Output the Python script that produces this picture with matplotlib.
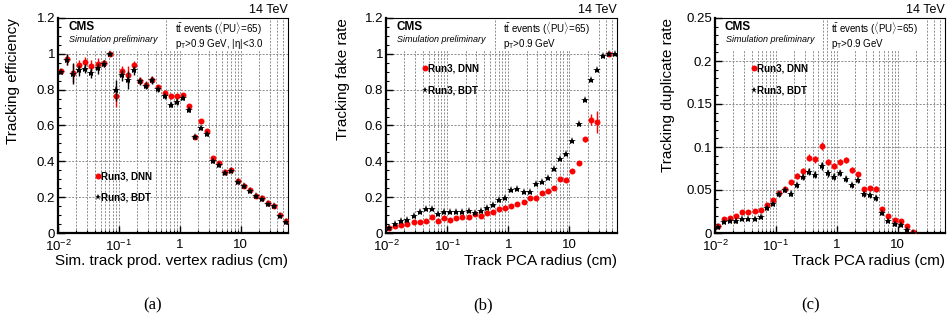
import numpy as np
import matplotlib
matplotlib.use('Agg')
import matplotlib.pyplot as plt
from matplotlib.patches import Rectangle
from matplotlib.ticker import FixedLocator, FuncFormatter, NullFormatter, MultipleLocator

plt.rcParams['font.family'] = ['Liberation Sans', 'DejaVu Sans']
plt.rcParams['mathtext.fontset'] = 'custom'
plt.rcParams['mathtext.rm'] = 'Liberation Sans'
plt.rcParams['mathtext.it'] = 'Liberation Sans:italic'
plt.rcParams['mathtext.bf'] = 'Liberation Sans:bold'
plt.rcParams['mathtext.fallback'] = 'cm'

nan = np.nan

# bin centres (cm)
radius = [0.0112, 0.0141, 0.0178, 0.0224, 0.0282, 0.0355, 0.0447, 0.0562, 0.0708, 0.0891,
          0.112, 0.141, 0.178, 0.224, 0.282, 0.355, 0.447, 0.562, 0.708, 0.891,
          1.12, 1.41, 1.78, 2.24, 2.82, 3.55, 4.47, 5.62, 7.08, 8.91,
          11.2, 14.1, 17.8, 22.4, 28.2, 35.5, 44.7, 56.2]

# (a) tracking efficiency
eff_dnn = [0.906, 0.970, 0.893, 0.935, 0.957, 0.933, 0.944, 0.948, 1.000, 0.763,
           0.902, 0.883, 0.935, 0.850, 0.828, 0.856, 0.813, 0.781, 0.763, 0.763,
           0.769, 0.707, 0.535, 0.624, 0.569, 0.420, 0.389, 0.343, 0.350, 0.290,
           0.263, 0.240, 0.209, 0.193, 0.165, 0.152, 0.100, 0.067]
eff_dnn_err = [0.010, 0.030, 0.050, 0.030, 0.025, 0.030, 0.030, 0.020, 0.005, 0.060,
               0.030, 0.050, 0.025, 0.020, 0.020, 0.020, 0.015, 0.015, 0.015, 0.015,
               0.012, 0.012, 0.010, 0.010, 0.010, 0.008, 0.008, 0.008, 0.008, 0.008,
               0.008, 0.007, 0.007, 0.007, 0.007, 0.007, 0.007, 0.007]
eff_bdt = [0.896, 0.967, 0.889, 0.907, 0.918, 0.893, 0.920, 0.944, 1.000, 0.796,
           0.881, 0.856, 0.907, 0.846, 0.822, 0.852, 0.804, 0.763, 0.717, 0.731,
           0.754, 0.689, 0.535, 0.587, 0.550, 0.400, 0.378, 0.337, 0.346, 0.285,
           0.260, 0.237, 0.205, 0.188, 0.160, 0.148, 0.095, 0.060]
eff_bdt_err = [0.010, 0.030, 0.060, 0.030, 0.025, 0.030, 0.030, 0.020, 0.005, 0.060,
               0.030, 0.050, 0.025, 0.020, 0.020, 0.020, 0.015, 0.015, 0.015, 0.015,
               0.012, 0.012, 0.010, 0.010, 0.010, 0.008, 0.008, 0.008, 0.008, 0.008,
               0.008, 0.007, 0.007, 0.007, 0.007, 0.007, 0.007, 0.007]

# (b) fake rate
fake_dnn = [0.026, 0.041, 0.044, 0.050, 0.059, 0.059, 0.069, 0.091, 0.065, 0.083,
            0.074, 0.083, 0.087, 0.087, 0.106, 0.096, 0.111, 0.115, 0.133, 0.141,
            0.152, 0.161, 0.174, 0.194, 0.198, 0.226, 0.235, 0.250, 0.304, 0.296,
            0.344, 0.389, 0.522, 0.633, 0.619, nan, 1.000, nan]
fake_dnn_err = [0.003, 0.003, 0.003, 0.003, 0.003, 0.003, 0.003, 0.004, 0.003, 0.003,
                0.003, 0.003, 0.003, 0.003, 0.003, 0.003, 0.003, 0.003, 0.003, 0.003,
                0.003, 0.003, 0.004, 0.004, 0.004, 0.005, 0.005, 0.006, 0.008, 0.008,
                0.010, 0.012, 0.015, 0.030, 0.060, 0.0, 0.005, 0.0]
fake_bdt = [0.026, 0.050, 0.069, 0.074, 0.096, 0.115, 0.133, 0.133, 0.106, 0.120,
            0.120, 0.119, 0.115, 0.124, 0.111, 0.124, 0.139, 0.157, 0.183, 0.198,
            0.241, 0.248, 0.230, 0.230, 0.272, 0.287, 0.309, 0.359, 0.415, 0.441,
            0.511, 0.609, 0.741, 0.852, 0.907, 0.989, 1.000, 1.000]
fake_bdt_err = [0.002] * 38

# (c) duplicate rate
dup_dnn = [0.0086, 0.0164, 0.0171, 0.0202, 0.0241, 0.0245, 0.0257, 0.0265, 0.0331, 0.0389,
           0.0460, 0.0506, 0.0592, 0.0662, 0.0720, 0.0876, 0.0857, 0.1010, 0.0826, 0.0779,
           0.0822, 0.0849, 0.0732, 0.0681, 0.0506, 0.0518, 0.0506, 0.0280, 0.0202, 0.0156,
           0.0136, 0.0086, 0.0016, nan, nan, nan, nan, nan]
dup_dnn_err = [0.0015, 0.0015, 0.0015, 0.0015, 0.0015, 0.0015, 0.0015, 0.0015, 0.0020, 0.0020,
               0.0025, 0.0025, 0.0030, 0.0030, 0.0035, 0.0040, 0.0040, 0.0045, 0.0040, 0.0040,
               0.0035, 0.0035, 0.0030, 0.0030, 0.0030, 0.0030, 0.0035, 0.0025, 0.0020, 0.0020,
               0.0020, 0.0020, 0.0010, 0, 0, 0, 0, 0]
dup_bdt = [0.0070, 0.0132, 0.0144, 0.0136, 0.0164, 0.0164, 0.0167, 0.0187, 0.0292, 0.0343,
           0.0448, 0.0498, 0.0456, 0.0553, 0.0650, 0.0713, 0.0678, 0.0779, 0.0693, 0.0654,
           0.0700, 0.0631, 0.0557, 0.0615, 0.0448, 0.0440, 0.0409, 0.0234, 0.0144, 0.0105,
           0.0097, 0.0039, 0.0004, nan, nan, nan, nan, nan]
dup_bdt_err = dup_dnn_err

RED = '#ff0000'

fig = plt.figure(figsize=(9.52, 3.27), dpi=100)
W, H = 952.0, 327.0


def make_axes(left, right, top=18, bottom=233):
    return fig.add_axes([left / W, 1 - bottom / H, (right - left) / W, (bottom - top) / H])


def yfmt(v, pos):
    return f'{v:g}'


def xfmt(v, pos):
    labels = {0.01: r'$10^{-2}$', 0.1: r'$10^{-1}$', 1.0: '1', 10.0: '10'}
    for k, s in labels.items():
        if abs(v - k) < 1e-9 * max(k, 1):
            return s
    return ''


def panel(ax, dnn, dnn_err, bdt, bdt_err, ymax, ymaj, ymin_step, ylabel, xlabel,
          ylab_x, leg_x, leg_y, box1_w, box2, line2, cms_x, box_x):
    ax.set_xscale('log')
    ax.set_xlim(0.01, 60)
    ax.set_ylim(0, ymax)
    ax.xaxis.set_major_locator(FixedLocator([0.01, 0.1, 1, 10]))
    ax.xaxis.set_major_formatter(FuncFormatter(xfmt))
    minors = [m * d for d in [0.01, 0.1, 1, 10] for m in range(2, 10) if m * d <= 60]
    ax.xaxis.set_minor_locator(FixedLocator(minors))
    ax.xaxis.set_minor_formatter(NullFormatter())
    ax.yaxis.set_major_locator(MultipleLocator(ymaj))
    ax.yaxis.set_minor_locator(MultipleLocator(ymin_step))
    ax.yaxis.set_major_formatter(FuncFormatter(yfmt))
    ax.tick_params(which='both', direction='in', top=False, right=False, labelsize=9.5)
    ax.tick_params(which='major', length=5, width=1.0)
    ax.tick_params(which='minor', length=2.5, width=0.8)
    ax.tick_params(axis='x', pad=4.5)
    ax.tick_params(axis='y', pad=2)
    for s in ['left', 'bottom']:
        ax.spines[s].set_linewidth(1.6)
    for s in ['top', 'right']:
        ax.spines[s].set_linewidth(0.8)

    # grid
    gkw = dict(color='0.55', lw=0.7, ls=(0, (2, 1.5)), zorder=0.8)
    xt = [0.01, 0.1, 1, 10] + minors
    ax.vlines(xt, 0, 1, transform=ax.get_xaxis_transform(), **gkw)
    yt = [v for v in ax.get_yticks() if 0 < v < ymax - 1e-9]
    ax.hlines(yt, 0, 1, transform=ax.get_yaxis_transform(), **gkw)

    # white text pads
    ax.add_patch(Rectangle((0, 0.851), box1_w, 0.149, transform=ax.transAxes,
                           fc='white', ec='none', zorder=1))
    ax.add_patch(Rectangle((box2[0], 0.851), box2[1] - box2[0], 0.149, transform=ax.transAxes,
                           fc='white', ec='none', zorder=1))

    ax.errorbar(radius, dnn, yerr=dnn_err, fmt='o', color=RED, ms=4.3, mew=0,
                elinewidth=1.0, capsize=0, zorder=3)
    ax.errorbar(radius, bdt, yerr=bdt_err, fmt='*', color='black', ms=6.0, mew=0,
                elinewidth=1.0, capsize=0, zorder=4)

    ax.set_ylabel(ylabel, fontsize=11, loc='top')
    ax.yaxis.set_label_coords(ylab_x, 1.0)
    ax.set_xlabel(xlabel, fontsize=11, loc='right')
    ax.xaxis.set_label_coords(1.0, -0.10)

    ax.text(1.0, 1.022, '14 TeV', transform=ax.transAxes, ha='right', va='baseline', fontsize=9)
    ax.text(cms_x, 0.944, 'CMS', transform=ax.transAxes, ha='left', va='baseline',
            fontsize=8.5, fontweight='bold', zorder=5)
    ax.text(cms_x + 0.003, 0.89, 'Simulation preliminary', transform=ax.transAxes, ha='left',
            va='baseline', fontsize=6.5, style='italic', zorder=5)
    ax.text(box_x, 0.930, r'$\mathregular{t\bar{t}}$ events ($\langle$PU$\rangle$=65)',
            transform=ax.transAxes, ha='left', va='baseline', fontsize=7, zorder=5)
    ax.text(box_x, 0.866, line2, transform=ax.transAxes,
            ha='left', va='baseline', fontsize=7, zorder=5)

    # legend
    ax.plot([leg_x], [leg_y[0]], 'o', color=RED, ms=4.3, mew=0, transform=ax.transAxes,
            clip_on=False, zorder=5)
    ax.plot([leg_x], [leg_y[1]], '*', color='black', ms=5.0, mew=0, transform=ax.transAxes,
            clip_on=False, zorder=5)
    ax.text(leg_x + 0.012, leg_y[0], 'Run3, DNN', transform=ax.transAxes, ha='left',
            va='center', fontsize=7, fontweight='bold', zorder=5)
    ax.text(leg_x + 0.012, leg_y[1], 'Run3, BDT', transform=ax.transAxes, ha='left',
            va='center', fontsize=7, fontweight='bold', zorder=5)


ptline_a = r'p$_\mathregular{T}$>0.9 GeV, |η|<3.0'
ptline = r'p$_\mathregular{T}$>0.9 GeV'

axa = make_axes(58, 288)
panel(axa, eff_dnn, eff_dnn_err, eff_bdt, eff_bdt_err, 1.2, 0.2, 0.05,
      'Tracking efficiency', 'Sim. track prod. vertex radius (cm)',
      -0.165, 0.173, (0.265, 0.166), 0.455, (0.474, 0.909), ptline_a, 0.045, 0.509)

axb = make_axes(386, 617)
panel(axb, fake_dnn, fake_dnn_err, fake_bdt, fake_bdt_err, 1.2, 0.2, 0.05,
      'Tracking fake rate', 'Track PCA radius (cm)',
      -0.156, 0.169, (0.766, 0.665), 0.462, (0.485, 0.898), ptline, 0.046, 0.508)

axc = make_axes(715, 945)
panel(axc, dup_dnn, dup_dnn_err, dup_bdt, dup_bdt_err, 0.25, 0.05, 0.01,
      'Tracking duplicate rate', 'Track PCA radius (cm)',
      -0.174, 0.170, (0.766, 0.665), 0.461, (0.49, 0.904), ptline, 0.043, 0.503)

for x, s in [(153, '(a)'), (483, '(b)'), (811, '(c)')]:
    fig.text(x / W, 1 - 305 / H, s, ha='center', va='center',
             family='Liberation Serif', fontsize=12)

fig.savefig('out.png', dpi=100)
